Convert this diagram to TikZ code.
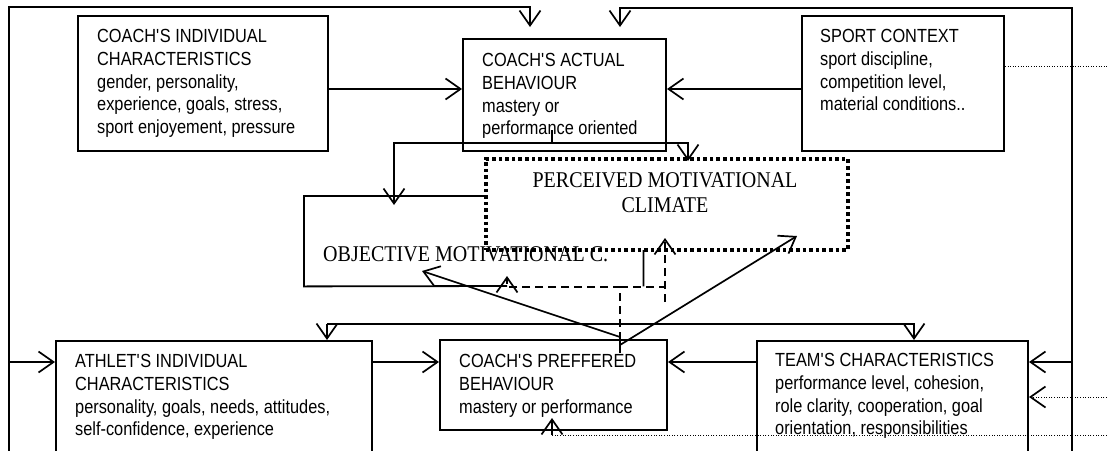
\documentclass[tikz,border=0pt]{standalone}
\usepackage{fontspec}
\setmainfont{Liberation Serif}[FakeStretch=0.89]
\newfontfamily\arialn{Liberation Sans}[FakeStretch=0.86]
\usetikzlibrary{arrows.meta}
\newcommand{\ap}{\textquotesingle}
\begin{document}
\begin{tikzpicture}[x=1pt,y=-1pt,
  box/.style={draw, line width=2pt, anchor=north west, inner sep=0pt},
  txt/.style={font=\arialn\fontsize{19}{22.6}\selectfont, align=left, anchor=north west, inner sep=0pt},
  serif/.style={font=\fontsize{22.5}{25}\selectfont, inner sep=0pt},
  conn/.style={line width=1.7pt},
  tip/.style={-{Straight Barb[length=15pt,width=21pt,line width=1.7pt]}},
  arr/.style={conn, tip},
  dsh/.style={line width=1.7pt, dash pattern=on 8pt off 5pt},
  dotl/.style={line width=1pt, dash pattern=on 1pt off 1.6pt},
  thickdot/.style={line width=3.6pt, dash pattern=on 3.6pt off 3pt}]
\path[use as bounding box] (0,0) rectangle (1107,450);
\clip (0,0) rectangle (1107,450);

% top boxes
\node[box, minimum width=250pt, minimum height=135pt] (cind) at (77,15) {};
\node[txt] (cindt) at (97,29.4) {COACH\ap S INDIVIDUAL\\CHARACTERISTICS\\gender, personality,\\experience, goals, stress,\\sport enjoyement, pressure};
\node[box, minimum width=203pt, minimum height=112pt] (actual) at (462,38) {};
\node[txt] (actualt) at (482,53.4) {COACH\ap S ACTUAL\\BEHAVIOUR\\mastery or\\performance oriented};
\node[box, minimum width=202pt, minimum height=135pt] (sport) at (801,15) {};
\node[txt] (sportt) at (820,29.4) {SPORT CONTEXT\\sport discipline,\\competition level,\\material conditions..};

% bottom boxes
\node[box, minimum width=316pt, minimum height=140pt] (athlete) at (55,340) {};
\node[txt] (athletet) at (75,354.4) {ATHLET\ap S INDIVIDUAL\\CHARACTERISTICS\\personality, goals, needs, attitudes,\\self-confidence, experience};
\node[box, minimum width=227pt, minimum height=90pt] (pref) at (439,339) {};
\node[txt] (preft) at (459,354.4) {COACH\ap S PREFFERED\\BEHAVIOUR\\mastery or performance};
\node[box, minimum width=271pt, minimum height=140pt] (team) at (756,340) {};
\node[txt] (teamt) at (775,353.4) {TEAM\ap S CHARACTERISTICS\\performance level, cohesion,\\role clarity, cooperation, goal\\orientation, responsibilities};

% objective box (outline drawn as path)
\node[anchor=north west, minimum width=339pt, minimum height=90pt, inner sep=0pt] (obj) at (304,196) {};
\coordinate (objcut) at (507,286);
\draw[line width=1.8pt] (objcut) -- (obj.south west) -- (obj.north west) -- (obj.north east) -- (obj.south east);

% perceived box
\node[anchor=north west, minimum width=362pt, minimum height=91pt, inner sep=0pt, fill=white, draw, thickdot] (perc) at (484,157) {};
\node[serif, align=center, anchor=north] (perct) at (665,172.1) {PERCEIVED MOTIVATIONAL\\CLIMATE};
\node[serif, anchor=base west] (objt) at (323,261) {OBJECTIVE MOTIVATIONAL C.};

% outer frame
\coordinate (fbl) at (9,460);
\coordinate (ftl) at (9,7);
\coordinate (fa) at (530,7);
\coordinate (fat) at (530,27);
\draw[arr] (fbl) -- (ftl) -- (fa) -- (fat);
\coordinate (fbr) at (1072,460);
\coordinate (ftr) at (1072,8);
\coordinate (fb) at (620,8);
\coordinate (fbt) at (620,27);
\draw[arr] (fbr) -- (ftr) -- (fb) -- (fbt);
\coordinate (fl) at (9,362);
\coordinate (fr) at (1072,362);
\draw[arr] (fl) -- (fl -| athlete.west);
\draw[arr] (fr) -- (fr -| team.east);

% top connectors
\coordinate (yA) at (0,89);
\draw[arr] (cind.east |- yA) -- (actual.west |- yA);
\draw[arr] (sport.west |- yA) -- (actual.east |- yA);
\coordinate (stub) at (552,130);
\coordinate (stubj) at (552,143);
\coordinate (objin) at (394,205);
\coordinate (percin) at (688,161);
\draw[arr] (stub) -- (stubj) -| (objin);
\draw[arr] (stubj) -| (percin);

% bottom connectors
\coordinate (yB) at (0,362);
\draw[arr] (athlete.east |- yB) -- (pref.west |- yB);
\draw[arr] (team.west |- yB) -- (pref.east |- yB);
\coordinate (hl) at (327,324);
\coordinate (hr) at (914,324);
\draw[arr] (hl) -- (hr) -- (hr |- team.north);
\draw[arr] (hl) -- (hl |- athlete.north);

% from preferred to climates
\coordinate (p1) at (620,337);
\coordinate (p2) at (620,345);
\coordinate (objarr) at (422,271);
\coordinate (percarr) at (797,236);
\draw[arr] (p1) -- (objarr);
\draw[arr] (p2) -- (percarr);
\draw[conn] (p1) -- (p2);

% dashed
\coordinate (d0) at (620,353);
\coordinate (d1) at (620,287);
\coordinate (d2) at (507,287);
\coordinate (d3) at (507,276);
\draw[dsh, tip] (d0) -- (d1) -- (d2) -- (d3);
\coordinate (d4) at (665,287);
\coordinate (d5) at (665,302);
\coordinate (d6) at (665,238);
\draw[dsh] (d1) -- (d4);
\draw[dsh, tip] (d5) -- (d6);

% dotted
\coordinate (yS) at (0,66);
\coordinate (edge1) at (1107,66);
\draw[dotl] (sport.east |- yS) -- (edge1);
\coordinate (edge2) at (1107,397);
\draw[dotl, tip] (edge2) -- (edge2 -| team.east);
\coordinate (edge3) at (1107,435);
\coordinate (u0) at (552,435);
\coordinate (u1) at (552,418);
\draw[dotl] (edge3) -- (u0);
\draw[arr] (u0) -- (u1);
\end{tikzpicture}
\end{document}
